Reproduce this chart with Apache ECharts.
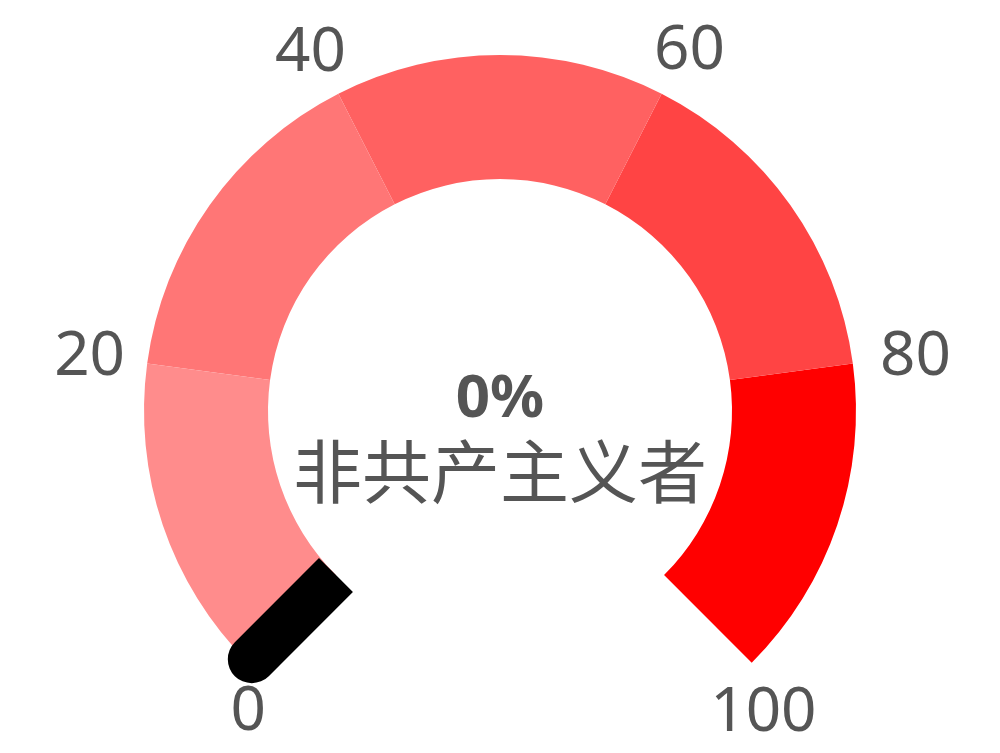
<!DOCTYPE html>
<html>
<head>
<meta charset="utf-8">
<script src="https://cdn.jsdelivr.net/npm/echarts@6/dist/echarts.min.js"></script>
<style>html,body{margin:0;padding:0;background:#fff;}#c{width:1000px;height:753px;}</style>
</head>
<body>
<div id="c"></div>
<script>
const categories = ['非共产主义者'];
const values = [0];
const axisMin = 0;
const axisMax = 100;
const tickLabels = [0, 20, 40, 60, 80, 100];
const bandStops = [0.195, 0.4, 0.6, 0.805, 1];
const bandColors = ['#ff8c8c', '#ff7676', '#ff6161', '#ff4444', '#ff0000'];

// per-label nudges (padding) so each tick label sits where the reference puts it
const labelPadding = {
  0: [0, 0, 104, 84],
  20: [50, 0, 0, 48],
  40: [57, 0, 0, 2],
  60: [55, 2, 0, 0],
  80: [50, 43, 0, 0],
  100: [0, 37, 103, 0]
};
const rich = {};
tickLabels.forEach((t) => {
  rich['t' + t] = { padding: labelPadding[t], fontSize: 62, color: '#555', fontFamily: 'Noto Sans' };
});

const chart = echarts.init(document.getElementById('c'));
chart.setOption({
  animation: false,
  series: [{
    type: 'gauge',
    center: [500, 411],
    radius: 356,
    startAngle: 225,
    endAngle: -45,
    min: axisMin,
    max: axisMax,
    splitNumber: tickLabels.length - 1,
    axisLine: { lineStyle: { width: 124, color: bandStops.map((s, i) => [s, bandColors[i]]) } },
    splitLine: { show: false, length: 0, distance: 0 },
    axisTick: { show: false },
    axisLabel: {
      distance: -144, fontSize: 62, color: '#555', fontFamily: 'Noto Sans',
      formatter: (v) => '{t' + Math.round(v) + '|' + Math.round(v) + '}',
      rich: rich
    },
    pointer: {
      icon: 'path://M0,24 A24,24 0 0 1 48,24 L48,143 L0,143 Z',
      length: 143, width: 48, offsetCenter: [0, -232],
      itemStyle: { color: '#000' }
    },
    anchor: { show: false },
    title: { offsetCenter: [0, 61], fontSize: 69, color: '#555', fontFamily: 'Noto Sans CJK SC' },
    detail: { offsetCenter: [0, -11], fontSize: 60, fontWeight: 'bold', color: '#555', fontFamily: 'Noto Sans', formatter: '{value}%' },
    data: categories.map((n, i) => ({ name: n, value: values[i] }))
  }]
});
</script>
</body>
</html>
